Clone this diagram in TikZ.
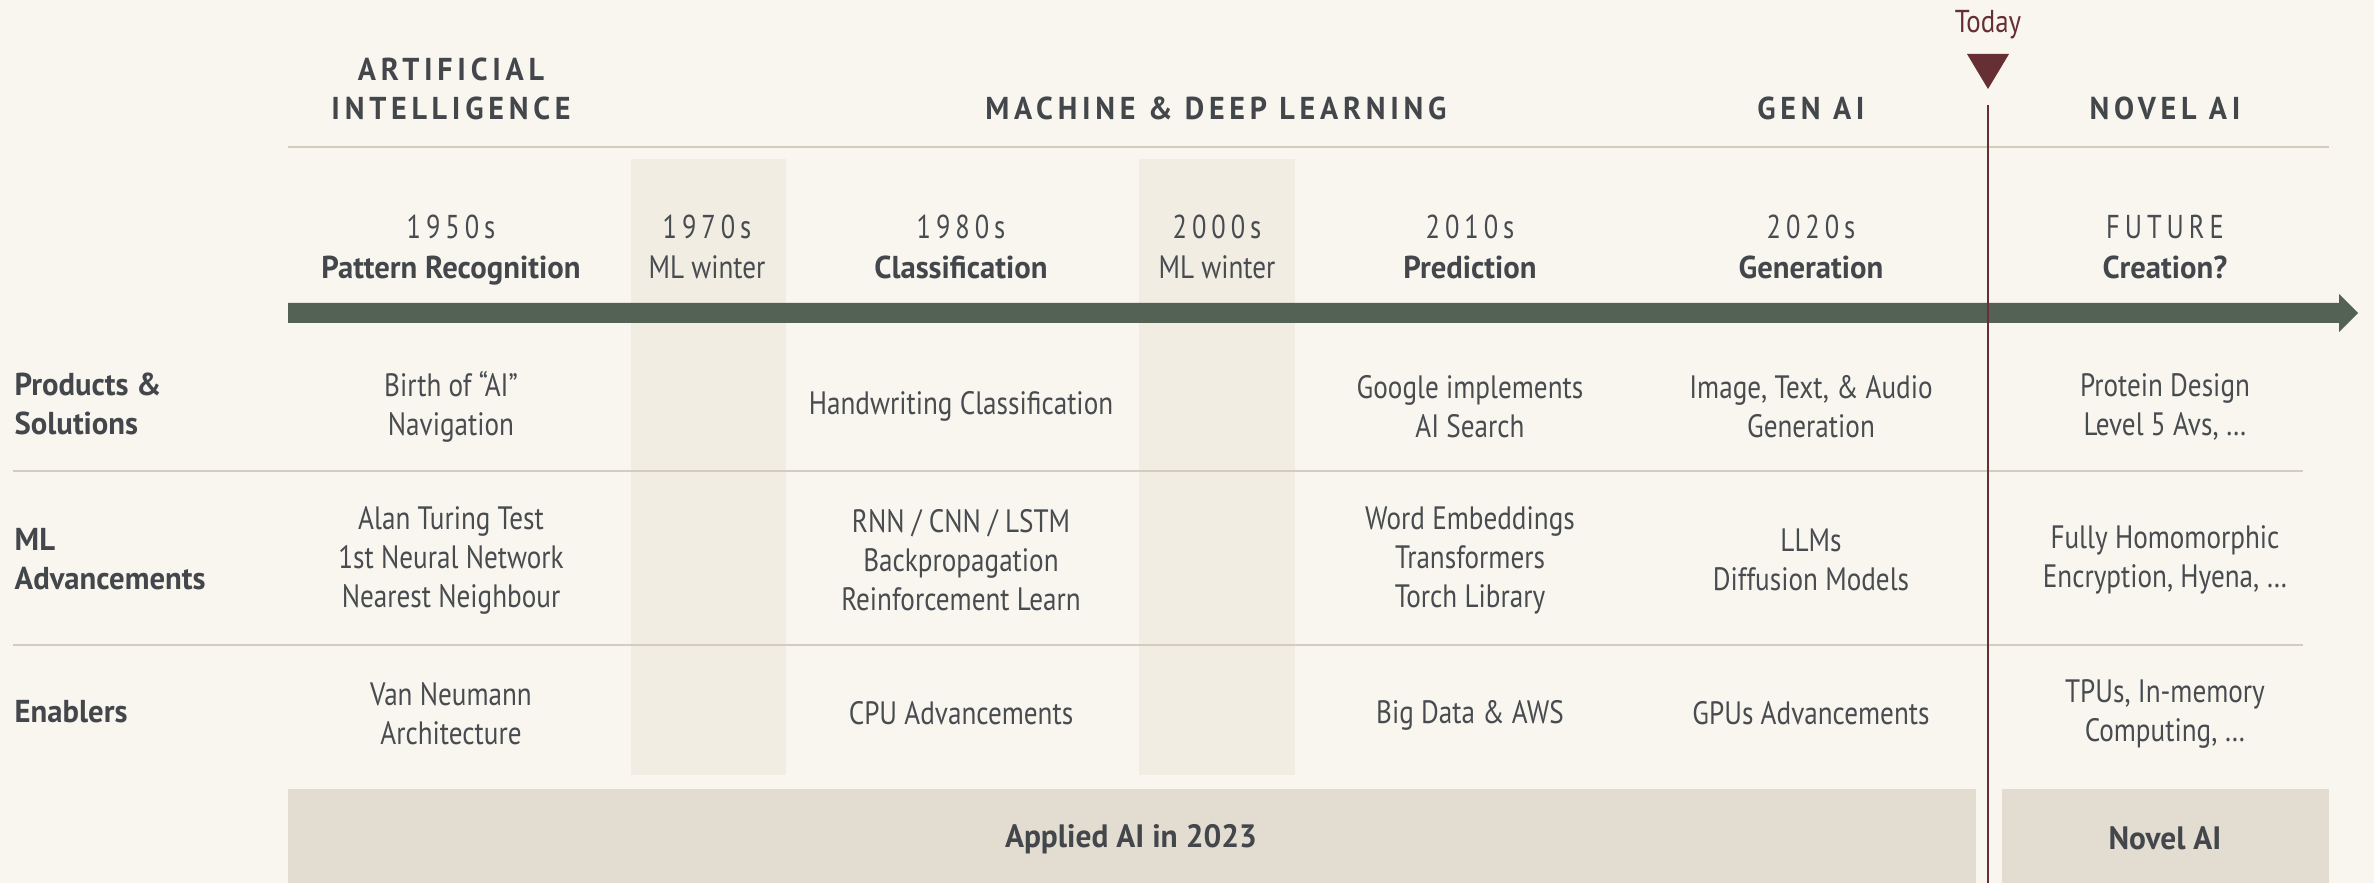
\documentclass[tikz,border=0pt]{standalone}
\usepackage{fontspec}
\setmainfont{PT Sans}
\newfontfamily\ltf[FakeStretch=0.84]{PT Sans}
\newfontfamily\bdf[FakeStretch=0.97]{PT Sans}
\newfontfamily\hdf[LetterSpace=15,FakeStretch=0.95]{PT Sans}
\newfontfamily\yrf[LetterSpace=15,FakeStretch=0.8]{PT Sans}
\newfontfamily\tdf[FakeStretch=0.85]{PT Sans}
\definecolor{bg}{HTML}{F8F6EE}
\definecolor{wint}{HTML}{F1EDE2}
\definecolor{barc}{HTML}{E3DCD0}
\definecolor{rule}{HTML}{D3CCBF}
\definecolor{arrowc}{HTML}{546155}
\definecolor{today}{HTML}{652F33}
\definecolor{txt}{HTML}{43474B}
\definecolor{txtl}{HTML}{484C50}
\begin{document}
\begin{tikzpicture}[x=0.01cm,y=-0.01cm,
  cell/.style={font=\ltf\fontsize{9.2}{11.1}\selectfont, text=txtl, align=center, inner sep=0pt},
  rowlab/.style={font=\bdf\bfseries\fontsize{9}{11.1}\selectfont, text=txt, align=left, anchor=west, inner sep=0pt},
  era/.style={font=\hdf\bfseries\fontsize{9}{11.1}\selectfont, text=txt, align=center, inner sep=0pt},
  yr/.style={font=\yrf\fontsize{9.4}{11}\selectfont, text=txtl, anchor=base, inner sep=0pt},
  ttl/.style={font=\bdf\bfseries\fontsize{9}{11}\selectfont, text=txt, anchor=base, inner sep=0pt},
  wlab/.style={font=\ltf\fontsize{9.2}{11}\selectfont, text=txtl, anchor=base, inner sep=0pt},
  barlab/.style={font=\bdf\bfseries\fontsize{9.2}{11}\selectfont, text=txt, inner sep=0pt},
  rulel/.style={draw=rule, line width=0.6pt},
  winter/.style={fill=wint},
  bottombar/.style={fill=barc}
]
\fill[bg] (0,0) rectangle (2374,883);
\useasboundingbox (0,0) rectangle (2374,883);

% winter columns
\fill[winter] (631,159) rectangle (786,775);
\fill[winter] (1139,159) rectangle (1295,775);

% bottom bars
\fill[bottombar] (288,789) rectangle (1976,883);
\fill[bottombar] (2002,789) rectangle (2329,883);

% rules
\draw[rulel] (288,147) -- (2329,147);
\draw[rulel] (13,471) -- (2303,471);
\draw[rulel] (13,645) -- (2303,645);

% timeline arrow
\coordinate (tlA) at (288,313);
\coordinate (tlB) at (2358,313);
\fill[arrowc] (288,303) -- (2339,303) -- (2339,294) -- (tlB) -- (2339,332) -- (2339,323) -- (288,323) -- cycle;

% today marker
\node[font=\tdf\fontsize{9}{11}\selectfont, text=today, inner sep=0pt] (todaylab) at (1988,25) {Today};
\fill[today] (1967,54) -- (2009,54) -- (1988,89) -- cycle;
\coordinate (todayTop) at (1988,105);
\coordinate (todayBot) at (1988,883);
\draw[today, line width=0.6pt] (todayTop) -- (todayBot);

% era headers
\node[era] (eraAI) at (451,89) {ARTIFICIAL\\INTELLIGENCE};
\node[era] (eraML) at (1216,108) {MACHINE \& DEEP LEARNING};
\node[era] (eraGen) at (1811,108) {GEN AI};
\node[era] (eraNov) at (2165,108) {NOVEL AI};

% decades
\node[yr] (y1950) at (451,239) {1950s};
\node[ttl] (t1950) at (451,279) {Pattern Recognition};
\node[yr] (y1970) at (707,239) {1970s};
\node[wlab] (t1970) at (707,279) {ML winter};
\node[yr] (y1980) at (961,239) {1980s};
\node[ttl] (t1980) at (961,279) {Classification};
\node[yr] (y2000) at (1217,239) {2000s};
\node[wlab] (t2000) at (1217,279) {ML winter};
\node[yr] (y2010) at (1470,239) {2010s};
\node[ttl] (t2010) at (1470,279) {Prediction};
\node[yr] (y2020) at (1811,239) {2020s};
\node[ttl] (t2020) at (1811,279) {Generation};
\node[yr] (yfut) at (2165,239) {FUTURE};
\node[ttl] (tfut) at (2165,279) {Creation?};

% row labels
\node[rowlab] (rProd) at (14,404) {Products \&\\Solutions};
\node[rowlab] (rML) at (14,559) {ML\\Advancements};
\node[rowlab] (rEn) at (14,712) {Enablers};

% products row
\node[cell] (p1950) at (451,407) {Birth of “AI”\\Navigation};
\node[cell] (p1980) at (961,406) {Handwriting Classification};
\node[cell] (p2010) at (1470,407) {Google implements\\AI Search};
\node[cell] (p2020) at (1811,407) {Image, Text, \& Audio\\Generation};
\node[cell] (pfut) at (2165,407) {Protein Design\\Level 5 Avs, …};

% ML row
\node[cell] (m1950) at (451,560) {Alan Turing Test\\1st Neural Network\\Nearest Neighbour};
\node[cell] (m1980) at (961,560) {RNN / CNN / LSTM\\Backpropagation\\Reinforcement Learn};
\node[cell] (m2010) at (1470,560) {Word Embeddings\\Transformers\\Torch Library};
\node[cell] (m2020) at (1811,560) {LLMs\\Diffusion Models};
\node[cell] (mfut) at (2165,560) {Fully Homomorphic\\Encryption, Hyena, …};

% enablers row
\node[cell] (e1950) at (451,714) {Van Neumann\\Architecture};
\node[cell] (e1980) at (961,713) {CPU Advancements};
\node[cell] (e2010) at (1470,715) {Big Data \& AWS};
\node[cell] (e2020) at (1811,713) {GPUs Advancements};
\node[cell] (efut) at (2165,714) {TPUs, In-memory\\Computing, …};

% bottom bar labels
\node[barlab] (bApplied) at (1131,839) {Applied AI in 2023};
\node[barlab] (bNovel) at (2165,838) {Novel AI};
\end{tikzpicture}
\end{document}
